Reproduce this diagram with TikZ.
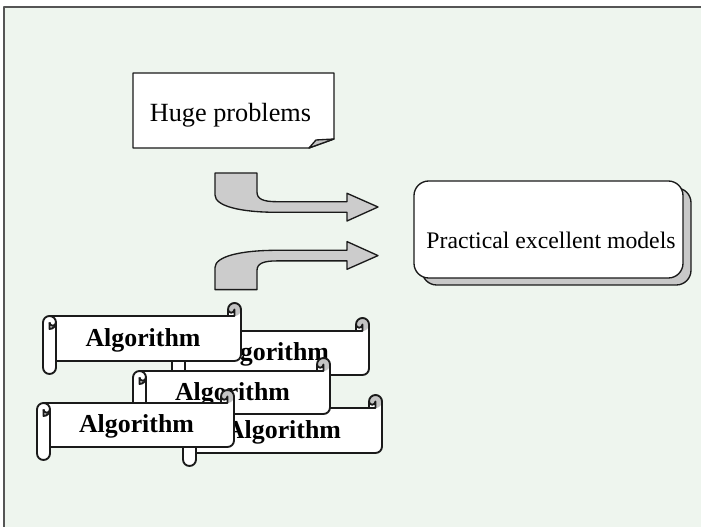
\documentclass[tikz,border=0pt]{standalone}
\usepackage{fontspec}
\setmainfont{Liberation Serif}
\usepackage{tikz}
\usetikzlibrary{calc}
\usetikzlibrary{positioning}
\usepackage{xcolor}
\definecolor{bgcol}{RGB}{238,245,238}
\definecolor{framecol}{RGB}{85,85,85}
\definecolor{edgecol}{RGB}{26,26,26}
\definecolor{curlcol}{RGB}{196,196,196}
\definecolor{arrowcol}{RGB}{204,204,204}
\definecolor{shadowcol}{RGB}{200,200,200}
% bent block arrow, upper one
\newcommand{\bentarrow}{(215,173) -- (257,173) -- (257,192)
  .. controls (257,199) and (263,201.7) .. (277,201.7) -- (347,201.7)
  -- (347,193.3) -- (378,207) -- (347,221) -- (347,212.3) -- (277,212.3)
  .. controls (240,212.3) and (215,206) .. (215,195) -- cycle}
% scroll: name, left, top, width, height
\newcommand{\algscroll}[5]{%
  \begin{scope}[shift={(#2,#3)}]
    \fill[white] (#4,6.5) arc[start angle=0,delta angle=90,radius=6.5]
      -- (#4-6.5,6.5) arc[start angle=0,delta angle=180,radius=3.25]
      -- (#4-13,13) -- (6.5,13) arc[start angle=270,delta angle=-90,radius=6.5]
      -- (0,#5-6.5) arc[start angle=180,delta angle=-180,radius=6.5]
      -- (13,#5-13) -- (#4-6.5,#5-13) arc[start angle=90,delta angle=-90,radius=6.5]
      -- cycle;
    \fill[curlcol] (6.5,26) arc[start angle=90,delta angle=-90,radius=6.5]
      arc[start angle=0,delta angle=180,radius=3.25] -- cycle;
    \fill[curlcol] (#4-6.5,13) arc[start angle=90,delta angle=-270,radius=6.5]
      arc[start angle=180,delta angle=-180,radius=3.25] -- cycle;
    \draw[scrolledge] (0,19.5) arc[start angle=180,delta angle=90,radius=6.5]
      -- (#4-13,13) -- (#4-13,6.5) arc[start angle=180,delta angle=180,radius=6.5]
      -- (#4,#5-19.5) arc[start angle=0,delta angle=90,radius=6.5]
      -- (13,#5-13) -- (13,#5-6.5) arc[start angle=0,delta angle=180,radius=6.5]
      -- cycle;
    \draw[scrolledge] (#4-13,13) -- (#4-6.5,13) -- (#4-6.5,6.5)
      arc[start angle=0,delta angle=180,radius=3.25];
    \draw[scrolledge] (6.5,19.5) -- (6.5,26) arc[start angle=90,delta angle=-90,radius=6.5]
      arc[start angle=0,delta angle=-90,radius=6.5];
    \draw[scrolledge] (6.5,19.5) arc[start angle=180,delta angle=-180,radius=3.25]
      -- (13,#5-6.5);
    \node[algtext] (#1) at (#4/2+1,#5/2+8) {Algorithm};
  \end{scope}}

\begin{document}
\begin{tikzpicture}[x=0.75pt,y=-0.75pt,line join=round,
    scrolledge/.style={draw=edgecol,line width=1.4pt},
    algtext/.style={font=\bfseries\fontsize{19.4}{22}\selectfont,anchor=base,inner sep=0pt},
    plaintext/.style={anchor=base,inner sep=0pt},
    blockarrow/.style={fill=arrowcol,draw=edgecol,line width=1pt}]
  \useasboundingbox (0,0) rectangle (701,527);
  % background
  \fill[bgcol] (4,7) rectangle (701,527);
  \draw[framecol,line width=1.5pt] (4,527) -- (4,7) -- (701,7);

  % note with folded corner
  \filldraw[fill=white,draw=edgecol,line width=1pt] (133,73) -- (334,73) -- (334,139)
    -- (309,148) -- (133,148) -- cycle;
  \filldraw[fill=curlcol,draw=edgecol,line width=1pt] (309,148) -- (316,140) -- (334,139) -- cycle;
  \node[plaintext,font=\fontsize{19.7}{22}\selectfont] (problems) at (230.5,121.7) {Huge problems};

  % rounded box with shadow
  \filldraw[fill=shadowcol,draw=edgecol,line width=1pt,rounded corners=11pt]
    (422,188) rectangle (691,285);
  \filldraw[fill=white,draw=edgecol,line width=1pt,rounded corners=11pt]
    (414,181) rectangle (683,278);
  \node[plaintext,font=\fontsize{17.8}{21}\selectfont] (models) at (551,249) {Practical excellent models};

  % bent arrows
  \filldraw[blockarrow] \bentarrow;
  \begin{scope}[shift={(0,462.6)},yscale=-1]
    \filldraw[blockarrow] \bentarrow;
  \end{scope}

  % scrolls, back to front
  \algscroll{algB}{172}{318}{197}{70}
  \algscroll{algE}{183}{395}{199}{71}
  \algscroll{algC}{133}{358}{197}{69}
  \algscroll{algA}{43}{303}{198}{71}
  \algscroll{algD}{37}{390}{197}{70}
\end{tikzpicture}
\end{document}
